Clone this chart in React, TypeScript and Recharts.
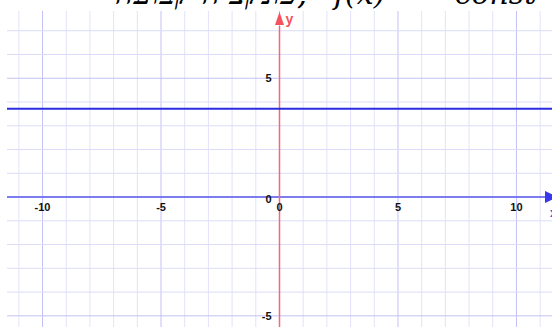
import React from "react";
import {
  ComposedChart,
  Line,
  Scatter,
  XAxis,
  YAxis,
  ReferenceLine,
} from "recharts";

// ---- data ----
const xGridValues = [-11, -10, -9, -8, -7, -6, -5, -4, -3, -2, -1, 0, 1, 2, 3, 4, 5, 6, 7, 8, 9, 10, 11];
const yGridValues = [-5, -4, -3, -2, -1, 0, 1, 2, 3, 4, 5, 6, 7];
const xTickLabels = [-10, -5, 0, 5, 10];
const yTickLabels = [-5, 0, 5];
const constantValue = 3.72;
const lineXs = [-11.5, 11.5];
const leftStubs = [2.24, 0.14, -1.92, -4.03];
const titleHebrew = "פונקציה קבועה,";
const titleFx = "f(x)";
const titleConst = "= const";

const xDomain: [number, number] = [-11.5, 11.5];
const yDomain: [number, number] = [-5.47, 7.83];

const constLineData = lineXs.map((x) => ({ x, y: constantValue }));
const xLabelData = xTickLabels.map((v) => ({ x: v, y: 0, label: String(v) }));
const yLabelData = yTickLabels.map((v) => ({ x: 0, y: v, label: String(v) }));
const xArrowData = [{ x: xDomain[1], y: 0 }];
const yArrowData = [{ x: 0, y: yDomain[1] }];
const stubData = leftStubs.map((y, i) => ({ x: xDomain[0], y, i }));

const stubColors = ["#d6d6e6", "#b8b8f4", "#d6d6e6", "#7070ee"];

const labelStyle = {
  fontFamily: "Arial, 'Liberation Sans', sans-serif",
  fontWeight: 700,
  fontSize: 11,
  fill: "#111",
};

const titleStyle = {
  fontFamily: "'DejaVu Serif', serif",
  fontStyle: "italic" as const,
  fontSize: 30,
  fill: "#000",
};

export default function App() {
  return (
    <div style={{ position: "absolute", left: 0, top: 0, width: 552, height: 327, background: "#fff", overflow: "hidden" }}>
      <ComposedChart
        width={552}
        height={327}
        margin={{ top: 11, right: 0, bottom: 0, left: 7 }}
        style={{ overflow: "visible" }}
      >
        <XAxis type="number" dataKey="x" domain={xDomain} hide allowDataOverflow />
        <YAxis type="number" dataKey="y" domain={yDomain} hide allowDataOverflow />

        {xGridValues.map((v) => (
          <ReferenceLine
            key={"gx" + v}
            x={v}
            stroke={v % 5 === 0 ? "#c2c2f6" : "#e2e2fb"}
            strokeWidth={1}
          />
        ))}
        {yGridValues.map((v) => (
          <ReferenceLine
            key={"gy" + v}
            y={v}
            stroke={v % 5 === 0 ? "#c2c2f6" : "#dcdcf8"}
            strokeWidth={1}
          />
        ))}

        <ReferenceLine y={0} stroke="#5b5bef" strokeWidth={1.5} />
        <ReferenceLine
          segment={[{ x: 0, y: yDomain[0] }, { x: 0, y: 7.2 }]}
          stroke="#f06a78"
          strokeWidth={1.5}
        />

        <Line
          data={constLineData}
          dataKey="y"
          stroke="#2b2be0"
          strokeWidth={2}
          dot={false}
          isAnimationActive={false}
        />

        <Scatter
          data={xLabelData}
          dataKey="y"
          isAnimationActive={false}
          shape={(p: any) => (
            <text x={p.cx} y={p.cy + 14} textAnchor="middle" style={labelStyle}>
              {p.payload.label}
            </text>
          )}
        />
        <Scatter
          data={yLabelData}
          dataKey="y"
          isAnimationActive={false}
          shape={(p: any) => (
            <text x={p.cx - 8} y={p.cy + (p.payload.y === 0 ? 6 : 4)} textAnchor="end" style={labelStyle}>
              {p.payload.label}
            </text>
          )}
        />

        <Scatter
          data={xArrowData}
          dataKey="y"
          isAnimationActive={false}
          shape={(p: any) => (
            <g>
              <polygon
                points={`${p.cx - 7},${p.cy - 6} ${p.cx + 6},${p.cy} ${p.cx - 7},${p.cy + 6}`}
                fill="#3838ee"
              />
              <text
                x={p.cx - 2}
                y={p.cy + 20}
                style={{ fontFamily: "Arial, sans-serif", fontWeight: 700, fontSize: 12, fill: "#4a4af0" }}
              >
                x
              </text>
            </g>
          )}
        />
        <Scatter
          data={yArrowData}
          dataKey="y"
          isAnimationActive={false}
          shape={(p: any) => (
            <g>
              <polygon
                points={`${p.cx - 4.5},${p.cy + 14} ${p.cx},${p.cy + 1} ${p.cx + 4.5},${p.cy + 14}`}
                fill="#f4525e"
              />
              <text
                x={p.cx + 6}
                y={p.cy + 13}
                style={{ fontFamily: "Arial, sans-serif", fontWeight: 700, fontSize: 14, fill: "#f4525e" }}
              >
                y
              </text>
            </g>
          )}
        />

        <Scatter
          data={stubData}
          dataKey="y"
          isAnimationActive={false}
          shape={(p: any) => (
            <line
              x1={p.cx - 8}
              x2={p.cx}
              y1={p.cy}
              y2={p.cy}
              stroke={stubColors[p.payload.i]}
              strokeWidth={p.payload.i === 3 ? 2 : 1}
            />
          )}
        />
      </ComposedChart>
      <svg
        width={552}
        height={20}
        style={{ position: "absolute", left: 0, top: 0, pointerEvents: "none" }}
      >
        <text x={115} y={4} textLength={192} lengthAdjust="spacingAndGlyphs" style={titleStyle}>
          {titleHebrew}
        </text>
      </svg>
      <svg
        width={552}
        height={20}
        style={{ position: "absolute", left: 0, top: 0, pointerEvents: "none" }}
      >
        <text x={334} y={4} style={titleStyle}>
          {titleFx}
        </text>
        <text x={420} y={4} style={titleStyle}>
          {titleConst}
        </text>
      </svg>
    </div>
  );
}
